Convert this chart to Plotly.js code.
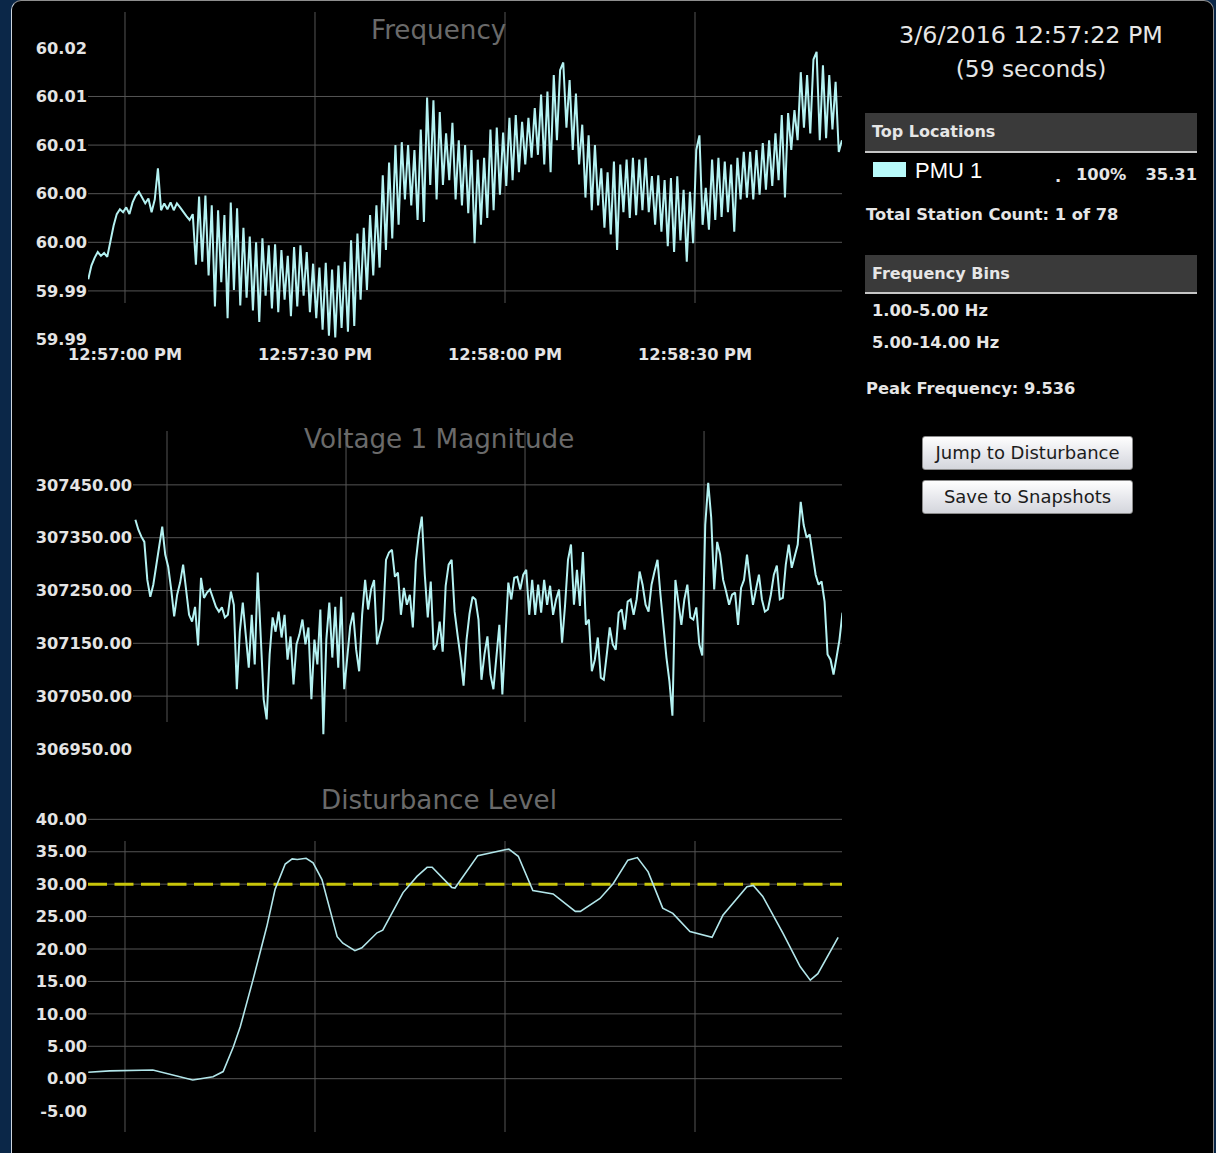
<!DOCTYPE html>
<html>
<head>
<meta charset="utf-8">
<script src="https://cdn.plot.ly/plotly-3.0.1.min.js"></script>
<style>
html,body{margin:0;padding:0;}
body{width:1216px;height:1153px;overflow:hidden;background:#0b2748;position:relative;font-family:'DejaVu Sans',sans-serif;}
#frame{position:absolute;left:11px;top:0;width:1201px;height:1170px;background:#000;border:1px solid #8e8e8e;border-left:1px solid #cdd6df;border-radius:10px 10px 0 0;}
#chart{position:absolute;left:0;top:0;width:1216px;height:1153px;}
.t{position:absolute;color:#e6e6e6;white-space:nowrap;font-family:'DejaVu Sans',sans-serif;}
.big{font-size:23.8px;line-height:28px;left:850px;width:362px;text-align:center;}
.hdr{position:absolute;left:865px;width:325px;background:#3a3a3a;border-bottom:2px solid #c6c6c6;color:#e6e6e6;font-family:'DejaVu Sans',sans-serif;font-weight:bold;font-size:16px;padding-left:7px;}
.body{font-size:16.3px;font-weight:bold;line-height:22px;}
.btn{position:absolute;left:922px;width:211px;height:34px;box-sizing:border-box;border:1px solid #8a8a8a;border-radius:3px;background:linear-gradient(#fefefe,#e4e5ea 60%,#d4d6dc);color:#1c1c1c;font-family:'DejaVu Sans',sans-serif;font-size:18px;text-align:center;line-height:32px;}
</style>
</head>
<body>
<div id="frame"></div>
<div id="chart"></div>

<div class="t big" style="top:21px;">3/6/2016 12:57:22 PM</div>
<div class="t big" style="top:55px;font-size:23.3px;">(59 seconds)</div>

<div class="hdr" style="top:113px;height:38px;line-height:38px;">Top Locations</div>
<div style="position:absolute;left:873px;top:162px;width:33px;height:15px;background:#b8fafa;"></div>
<div class="t" style="left:915px;top:159px;font-family:'Liberation Sans',sans-serif;font-size:22px;line-height:24px;color:#fff;">PMU 1</div>
<div class="t body" style="left:1055px;top:166px;">.</div>
<div class="t body" style="left:1076px;top:164px;">100%</div>
<div class="t body" style="left:1100px;width:97px;text-align:right;top:164px;">35.31</div>
<div class="t body" style="left:866px;top:204px;">Total Station Count: 1 of 78</div>

<div class="hdr" style="top:255px;height:37px;line-height:37px;">Frequency Bins</div>
<div class="t body" style="left:872px;top:300px;">1.00-5.00 Hz</div>
<div class="t body" style="left:872px;top:332px;">5.00-14.00 Hz</div>
<div class="t body" style="left:866px;top:378px;">Peak Frequency: 9.536</div>

<div class="btn" style="top:436px;">Jump to Disturbance</div>
<div class="btn" style="top:480px;">Save to Snapshots</div>

<script>
// ---------- data ----------
const BASE_MS = Date.UTC(2016, 2, 6, 12, 57, 0); // 12:57:00 PM
const sampleStartSeconds = -5.8;
const sampleStepSeconds = 0.5;
const xTickSeconds = [0, 30, 60, 90];

const freqTickValues = [59.99, 59.995, 60.0, 60.005, 60.01, 60.015, 60.02];
const freqTickLabels = ['59.99', '59.99', '60.00', '60.00', '60.01', '60.01', '60.02'];
const freqGridValues = [59.995, 60.0, 60.005, 60.01, 60.015];

const voltTickValues = [306950, 307050, 307150, 307250, 307350, 307450];
const voltGridValues = [307050, 307150, 307250, 307350, 307450];

const distTickValues = [-5, 0, 5, 10, 15, 20, 25, 30, 35, 40];
const distGridValues = [0, 5, 10, 15, 20, 25, 30, 35, 40];
const disturbanceThreshold = 30;

const freqValues = [
59.9962, 59.9976, 59.9984, 59.9990, 59.9986, 59.9989, 59.9985, 60.0002, 60.0017, 60.0029,
60.0034, 60.0031, 60.0036, 60.0029, 60.0041, 60.0048, 60.0052, 60.0046, 60.0040, 60.0045,
60.0031, 60.0044, 60.0076, 60.0033, 60.0040, 60.0034, 60.0041, 60.0033, 60.0040, 60.0036,
60.0031, 60.0027, 60.0023, 60.0029, 59.9977, 60.0047, 59.9980, 60.0048, 59.9966, 60.0038,
59.9934, 60.0033, 59.9959, 60.0028, 59.9922, 60.0041, 59.9951, 60.0035, 59.9935, 60.0015,
59.9943, 60.0006, 59.9930, 60.0000, 59.9918, 60.0004, 59.9945, 59.9997, 59.9932, 59.9998,
59.9928, 59.9992, 59.9941, 59.9986, 59.9924, 59.9995, 59.9934, 59.9997, 59.9945, 59.9990,
59.9928, 59.9978, 59.9922, 59.9974, 59.9910, 59.9979, 59.9904, 59.9972, 59.9902, 59.9976,
59.9912, 59.9980, 59.9908, 60.0002, 59.9914, 60.0009, 59.9941, 60.0015, 59.9951, 60.0028,
59.9966, 60.0038, 59.9974, 60.0069, 59.9992, 60.0082, 60.0004, 60.0100, 60.0018, 60.0103,
60.0044, 60.0100, 60.0038, 60.0095, 60.0023, 60.0116, 60.0021, 60.0149, 60.0059, 60.0146,
60.0044, 60.0134, 60.0059, 60.0112, 60.0064, 60.0123, 60.0044, 60.0105, 60.0038, 60.0100,
60.0030, 60.0095, 59.9999, 60.0085, 60.0018, 60.0087, 60.0025, 60.0116, 60.0033, 60.0118,
60.0049, 60.0113, 60.0058, 60.0128, 60.0064, 60.0131, 60.0072, 60.0124, 60.0080, 60.0128,
60.0087, 60.0138, 60.0090, 60.0152, 60.0080, 60.0155, 60.0072, 60.0172, 60.0105, 60.0177,
60.0185, 60.0118, 60.0167, 60.0095, 60.0153, 60.0080, 60.0121, 60.0046, 60.0110, 60.0033,
60.0100, 60.0038, 60.0076, 60.0015, 60.0072, 60.0008, 60.0083, 59.9992, 60.0080, 60.0031,
60.0085, 60.0025, 60.0087, 60.0028, 60.0085, 60.0033, 60.0087, 60.0031, 60.0068, 60.0018,
60.0069, 60.0011, 60.0064, 59.9996, 60.0066, 59.9990, 60.0068, 60.0002, 60.0054, 59.9980,
60.0052, 59.9999, 60.0095, 60.0110, 60.0018, 60.0056, 60.0013, 60.0085, 60.0023, 60.0087,
60.0026, 60.0083, 60.0031, 60.0080, 60.0011, 60.0087, 60.0044, 60.0093, 60.0046, 60.0093,
60.0044, 60.0095, 60.0049, 60.0102, 60.0054, 60.0105, 60.0058, 60.0112, 60.0064, 60.0131,
60.0046, 60.0133, 60.0095, 60.0136, 60.0105, 60.0175, 60.0118, 60.0172, 60.0112, 60.0188,
60.0196, 60.0105, 60.0182, 60.0107, 60.0172, 60.0116, 60.0165, 60.0093, 60.0105
];

const voltValues = [
null, 307384, 307365, 307352, 307342, 307270, 307238, 307261, 307299, 307331,
307371, 307318, 307295, 307252, 307201, 307242, 307265, 307299, 307252, 307204,
307191, 307219, 307146, 307274, 307236, 307246, 307252, 307233, 307219, 307210,
307218, 307199, 307204, 307248, 307223, 307063, 307172, 307227, 307157, 307104,
307204, 307110, 307284, 307148, 307044, 307006, 307129, 307199, 307172, 307210,
307161, 307204, 307119, 307163, 307072, 307148, 307167, 307195, 307148, 307180,
307044, 307157, 307110, 307214, 306978, 307157, 307227, 307123, 307219, 307104,
307238, 307063, 307129, 307182, 307208, 307138, 307097, 307204, 307270, 307214,
307252, 307270, 307148, 307170, 307195, 307308, 307322, 307327, 307276, 307284,
307204, 307255, 307223, 307242, 307180, 307305, 307356, 307390, 307280, 307199,
307267, 307138, 307148, 307191, 307134, 307259, 307299, 307308, 307210, 307165,
307123, 307070, 307157, 307206, 307238, 307233, 307195, 307081, 307129, 307163,
307091, 307063, 307129, 307185, 307053, 307163, 307265, 307233, 307274, 307276,
307252, 307280, 307289, 307204, 307270, 307204, 307261, 307208, 307270, 307223,
307259, 307204, 307233, 307252, 307151, 307221, 307308, 307337, 307223, 307289,
307221, 307323, 307185, 307195, 307097, 307119, 307161, 307085, 307081, 307129,
307180, 307148, 307138, 307208, 307214, 307176, 307229, 307233, 307204, 307233,
307286, 307261, 307223, 307210, 307261, 307286, 307308, 307242, 307180, 307123,
307078, 307013, 307270, 307223, 307185, 307233, 307261, 307199, 307195, 307218,
307148, 307127, 307374, 307454, 307388, 307252, 307342, 307318, 307270, 307248,
307223, 307242, 307246, 307185, 307255, 307270, 307318, 307270, 307223, 307252,
307280, 307233, 307210, 307214, 307242, 307280, 307297, 307233, 307236, 307299,
307337, 307293, 307318, 307337, 307418, 307374, 307350, 307356, 307318, 307280,
307261, 307267, 307229, 307129, 307119, 307091, 307123, 307157, 307208
];

const disturbanceSeconds = [
-5.8, -2.4, 4.4, 10.7, 13.9, 15.5, 17.1, 18.2, 20.2, 22.4,
23.7, 25.3, 26.4, 27.2, 28.6, 29.7, 31.1, 33.5, 34.4, 36.3,
37.4, 39.8, 40.7, 43.9, 46.1, 47.7, 48.5, 51.6, 52.1, 55.7,
60.0, 60.6, 62.1, 64.4, 67.6, 71.1, 71.9, 75.0, 77.1, 79.4,
80.9, 82.6, 84.9, 86.5, 89.2, 92.7, 94.4, 98.2, 99.2, 100.7,
103.9, 106.6, 108.2, 109.4, 112.6
];
const disturbanceValues = [
1.0, 1.2, 1.35, -0.2, 0.3, 1.1, 4.9, 8.0, 15.2, 23.5,
29.2, 33.1, 33.9, 33.8, 34.0, 33.3, 30.7, 21.9, 20.9, 19.75,
20.2, 22.5, 22.9, 28.7, 31.2, 32.6, 32.6, 29.5, 29.4, 34.4,
35.3, 35.4, 34.3, 29.0, 28.5, 25.8, 25.8, 27.8, 30.1, 33.7,
34.1, 31.9, 26.3, 25.5, 22.7, 21.8, 25.2, 29.6, 29.8, 28.1,
22.4, 17.3, 15.2, 16.2, 21.8
];

// ---------- helpers ----------
const W = 1216, H = 1153;
const fx = px => px / W;
const fy = px => 1 - px / H;
const toMs = s => BASE_MS + s * 1000;
const sampleTimes = freqValues.map((_, i) => toMs(sampleStartSeconds + i * sampleStepSeconds));

const TRACE_COLOR = '#b4f2f2';
const GRID_COLOR = '#555555';
const LABEL_FONT = {family: 'DejaVu Sans', size: 16.2, color: '#e4e4e4', weight: 'bold'};
const TITLE_FONT = {family: 'DejaVu Sans', size: 26.2, color: '#6a6a6a'};

const traces = [
  {x: sampleTimes, y: freqValues, xaxis: 'x', yaxis: 'y', type: 'scatter', mode: 'lines',
   line: {color: TRACE_COLOR, width: 2}, hoverinfo: 'skip'},
  {x: sampleTimes, y: voltValues, xaxis: 'x2', yaxis: 'y2', type: 'scatter', mode: 'lines',
   line: {color: TRACE_COLOR, width: 2}, hoverinfo: 'skip', connectgaps: false},
  {x: disturbanceSeconds.map(toMs), y: disturbanceValues, xaxis: 'x3', yaxis: 'y3', type: 'scatter', mode: 'lines',
   line: {color: '#b2e6ea', width: 1.6}, hoverinfo: 'skip'}
];

const shapes = [];
function hGrid(vals, yref, x0px, x1px) {
  vals.forEach(v => shapes.push({type: 'line', layer: 'below', xref: 'paper', yref: yref,
    x0: fx(x0px), x1: fx(x1px), y0: v, y1: v, line: {color: GRID_COLOR, width: 1}}));
}
function vGrid(xref, topPx, botPx) {
  xTickSeconds.forEach(s => shapes.push({type: 'line', layer: 'below', xref: xref, yref: 'paper',
    x0: toMs(s), x1: toMs(s), y0: fy(botPx), y1: fy(topPx), line: {color: GRID_COLOR, width: 1}}));
}
hGrid(freqGridValues, 'y', 88, 842);
vGrid('x', 12, 303);
hGrid(voltGridValues, 'y2', 133, 842);
vGrid('x2', 431, 722);
hGrid(distGridValues, 'y3', 88, 842);
vGrid('x3', 841, 1132);
shapes.push({type: 'line', layer: 'below', xref: 'paper', yref: 'y3', x0: fx(88), x1: fx(842),
  y0: disturbanceThreshold, y1: disturbanceThreshold, line: {color: '#c8c50a', width: 3, dash: '19px,7.5px'}});

const baseX = {type: 'date', showgrid: false, zeroline: false, showline: false, ticks: '', fixedrange: true};
const baseY = {showgrid: false, zeroline: false, showline: false, ticks: '', fixedrange: true, tickfont: LABEL_FONT};

const layout = {
  width: W, height: H, margin: {l: 0, r: 0, t: 0, b: 0},
  paper_bgcolor: 'rgba(0,0,0,0)', plot_bgcolor: 'rgba(0,0,0,0)', showlegend: false,
  font: {family: 'DejaVu Sans', color: '#e4e4e4'},
  xaxis: Object.assign({}, baseX, {domain: [fx(88), fx(842)], range: [toMs(-5.84), toMs(113.21)], anchor: 'y',
    tickvals: xTickSeconds.map(toMs), tickformat: '%I:%M:%S %p', tickfont: LABEL_FONT, ticklabelstandoff: 3}),
  yaxis: Object.assign({}, baseY, {domain: [fy(340), fy(12)], range: [59.98995, 60.02369], anchor: 'x',
    tickvals: freqTickValues, ticktext: freqTickLabels}),
  xaxis2: Object.assign({}, baseX, {domain: [fx(133), fx(842)], range: [toMs(-5.70), toMs(113.12)], anchor: 'y2',
    showticklabels: false}),
  yaxis2: Object.assign({}, baseY, {domain: [fy(750), fy(431)], range: [306948, 307552], anchor: 'x2',
    tickvals: voltTickValues, ticktext: voltTickValues.map(v => v.toFixed(2))}),
  xaxis3: Object.assign({}, baseX, {domain: [fx(88), fx(842)], range: [toMs(-5.84), toMs(113.21)], anchor: 'y3',
    showticklabels: false}),
  yaxis3: Object.assign({}, baseY, {domain: [fy(1132), fy(812)], range: [-8.22, 41.13], anchor: 'x3',
    tickvals: distTickValues, ticktext: distTickValues.map(v => v.toFixed(2))}),
  shapes: shapes,
  annotations: [
    {xref: 'paper', yref: 'paper', x: fx(438.5), y: fy(30), text: 'Frequency', showarrow: false,
     xanchor: 'center', yanchor: 'middle', font: TITLE_FONT},
    {xref: 'paper', yref: 'paper', x: fx(438.5), y: fy(439), text: 'Voltage 1 Magnitude', showarrow: false,
     xanchor: 'center', yanchor: 'middle', font: TITLE_FONT},
    {xref: 'paper', yref: 'paper', x: fx(438.5), y: fy(800), text: 'Disturbance Level', showarrow: false,
     xanchor: 'center', yanchor: 'middle', font: TITLE_FONT}
  ]
};

Plotly.newPlot('chart', traces, layout, {staticPlot: true, displayModeBar: false});
</script>
</body>
</html>
